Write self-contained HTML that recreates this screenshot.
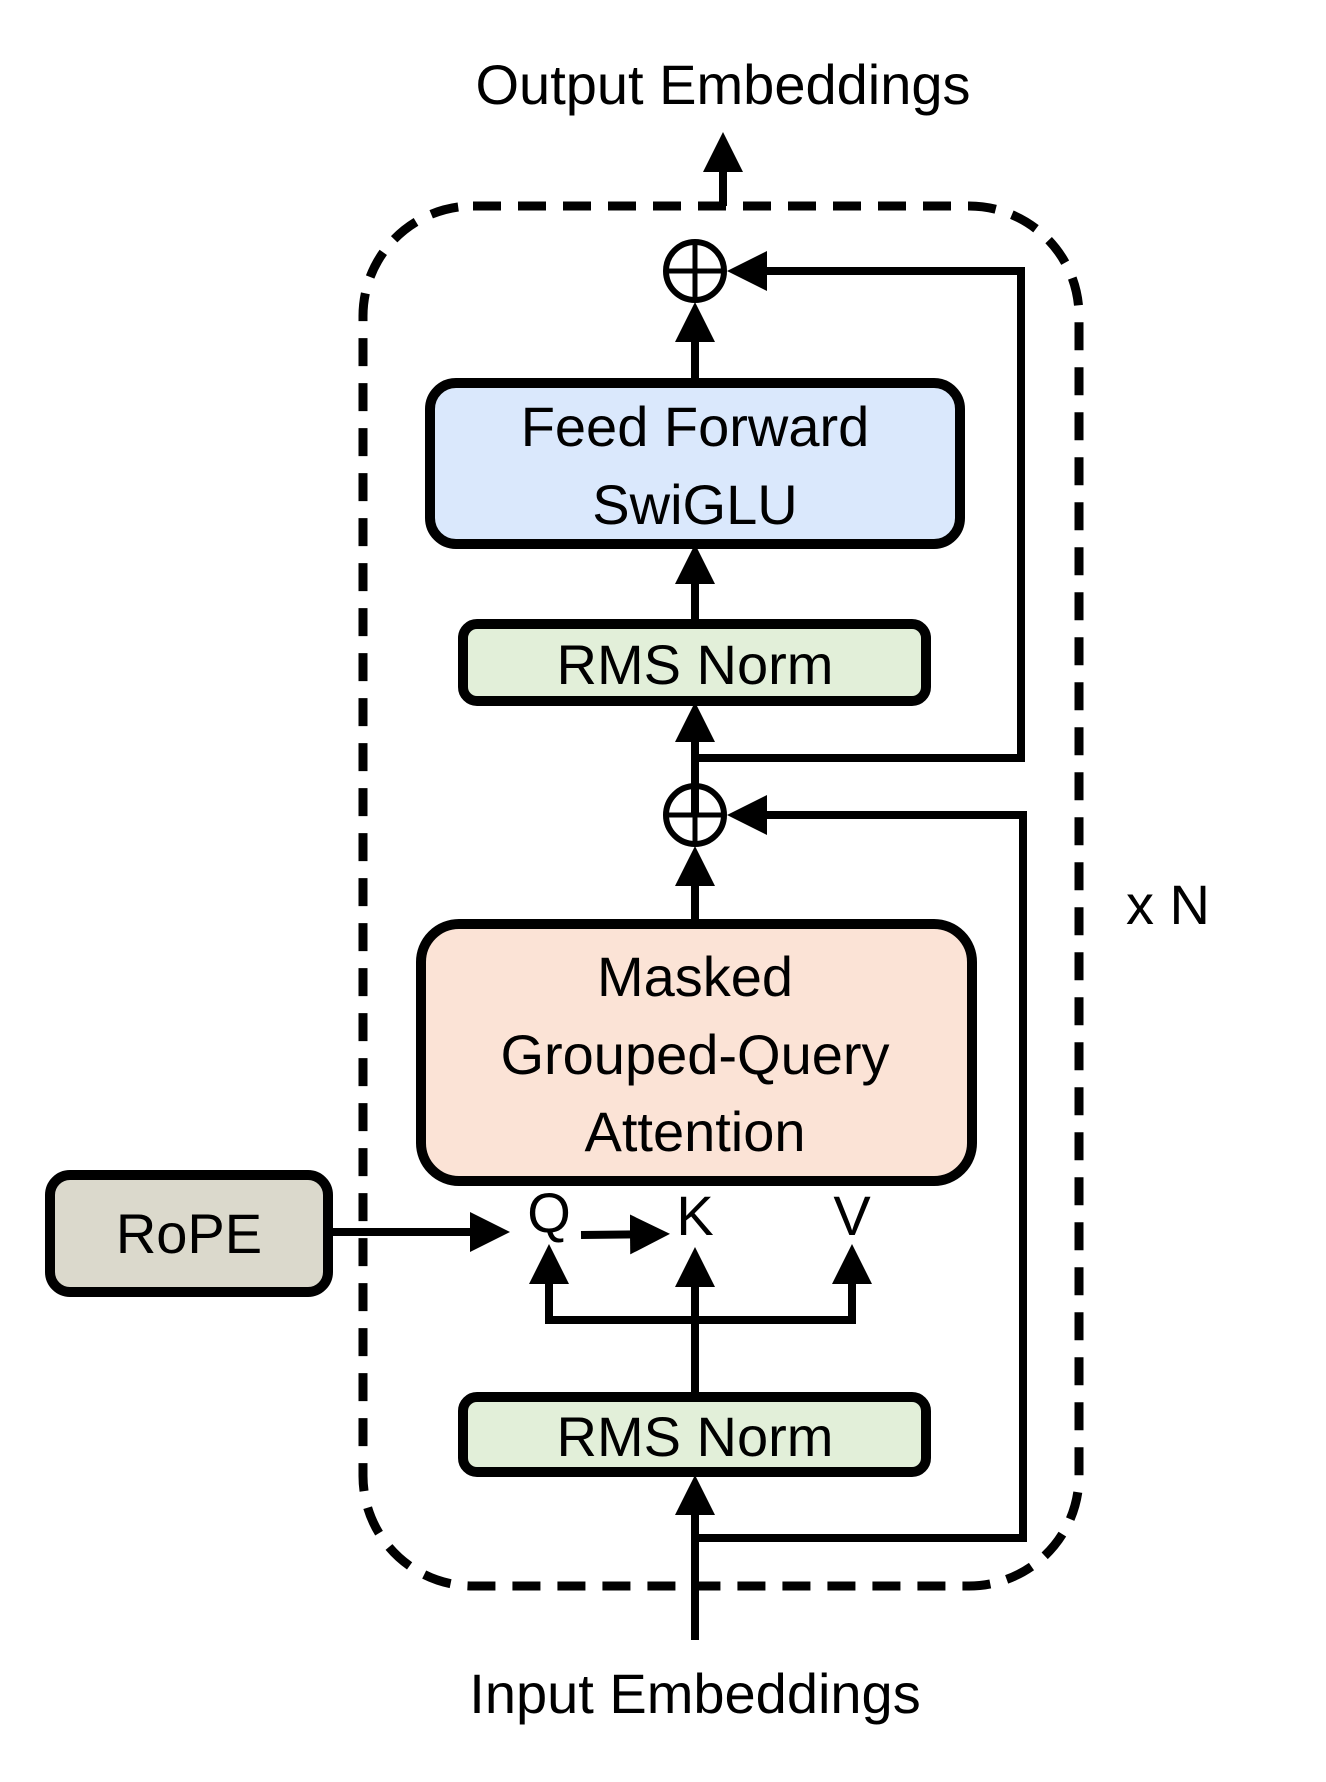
<!DOCTYPE html>
<html><head><style>html,body{margin:0;padding:0;background:#fff}</style></head>
<body>
<svg width="1326" height="1777" viewBox="0 0 1326 1777" xmlns="http://www.w3.org/2000/svg" font-family="'Liberation Sans', sans-serif">
<defs>
<marker id="a" markerWidth="5" markerHeight="5" refX="4" refY="2.5" orient="auto" markerUnits="strokeWidth">
<path d="M0,0 L5,2.5 L0,5 z" fill="#000"/></marker>
</defs>
<rect x="363" y="206" width="716" height="1380" rx="110" fill="none" stroke="#000" stroke-width="9" stroke-dasharray="28,17"/>
<g stroke="#000" stroke-width="8" fill="none">
<line x1="723" y1="206" x2="723" y2="140" marker-end="url(#a)"/>
<line x1="695" y1="383" x2="695" y2="310" marker-end="url(#a)"/>
<polyline points="695,758 1021,758 1021,271 735,271" marker-end="url(#a)"/>
<line x1="695" y1="624" x2="695" y2="552" marker-end="url(#a)"/>
<line x1="695" y1="815" x2="695" y2="710" marker-end="url(#a)"/>
<line x1="695" y1="924" x2="695" y2="854" marker-end="url(#a)"/>
<polyline points="695,1538 1023,1538 1023,815 735,815" marker-end="url(#a)"/>
<line x1="695" y1="1640" x2="695" y2="1483" marker-end="url(#a)"/>
<line x1="695" y1="1397" x2="695" y2="1255" marker-end="url(#a)"/>
<polyline points="549,1255 549,1320 852,1320 852,1255"/>
<line x1="549" y1="1320" x2="549" y2="1252" marker-end="url(#a)"/>
<line x1="852" y1="1320" x2="852" y2="1252" marker-end="url(#a)"/>
<line x1="328" y1="1232" x2="502" y2="1232" marker-end="url(#a)"/>
<line x1="581" y1="1235" x2="662" y2="1234" marker-end="url(#a)"/>
<circle cx="695" cy="271" r="29" stroke-width="6"/>
<line x1="666" y1="271" x2="724" y2="271" stroke-width="5"/>
<line x1="695" y1="242" x2="695" y2="300" stroke-width="5"/>
<circle cx="695" cy="815" r="29" stroke-width="6"/>
<line x1="666" y1="815" x2="724" y2="815" stroke-width="5"/>
<line x1="695" y1="786" x2="695" y2="844" stroke-width="5"/>
</g>
<g stroke="#000" stroke-width="10">
<rect x="430" y="383" width="530" height="161" rx="26" fill="#dae8fc"/>
<rect x="463" y="624" width="463" height="77" rx="14" fill="#e2efd9"/>
<rect x="421" y="924" width="551" height="257" rx="38" fill="#fbe3d6"/>
<rect x="50" y="1175" width="278" height="117" rx="20" fill="#dbd9cc"/>
<rect x="463" y="1397" width="463" height="75" rx="14" fill="#e2efd9"/>
</g>
<g font-size="56" text-anchor="middle" fill="#000">
<text x="723" y="104">Output Embeddings</text>
<text x="695" y="446">Feed Forward</text>
<text x="695" y="524">SwiGLU</text>
<text x="695" y="684">RMS Norm</text>
<text x="695" y="996">Masked</text>
<text x="695" y="1074">Grouped-Query</text>
<text x="695" y="1151">Attention</text>
<text x="189" y="1253">RoPE</text>
<text x="549" y="1232">Q</text>
<text x="695" y="1235">K</text>
<text x="852" y="1235">V</text>
<text x="695" y="1456">RMS Norm</text>
<text x="695" y="1713">Input Embeddings</text>
<text x="1168" y="924">x N</text>
</g>
</svg>
</body></html>
